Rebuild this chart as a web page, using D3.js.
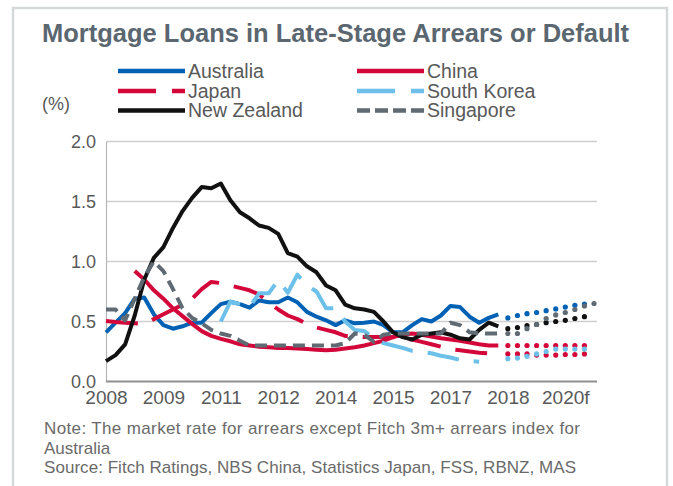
<!DOCTYPE html>
<html>
<head>
<meta charset="utf-8">
<script src="https://cdn.jsdelivr.net/npm/d3@7"></script>
<style>
  html, body { margin: 0; padding: 0; background: #fff; }
  svg { display: block; font-family: "Liberation Sans", Arial, sans-serif; }
</style>
</head>
<body>
<svg id="chart" width="673" height="486"></svg>
<script>
// ---------- DATA ----------
const years = d3.range(2008, 2021);
const categories = years.flatMap(y => [1, 2, 3, 4].map(q => y + "Q" + q));   // 2008Q1 .. 2020Q4

const tickCategories = ["2008Q1", "2009Q3", "2011Q1", "2012Q3", "2014Q1", "2015Q3", "2017Q1", "2018Q3", "2020Q1"];
const tickLabels     = ["2008", "2009", "2011", "2012", "2014", "2015", "2017", "2018", "2020f"];
const yTicks = [0, 0.5, 1.0, 1.5, 2.0];

const seriesNames = ["Australia", "China", "Japan", "South Korea", "New Zealand", "Singapore"];

// actual values, starting at the given quarter
const australiaStart = "2008Q1";
const australia = [0.41,0.49,0.57,0.69,0.70,0.56,0.47,0.44,0.46,0.49,0.49,0.57,0.645,0.665,0.645,0.615,0.675,0.66,0.66,0.70,0.66,0.58,0.54,0.51,0.47,0.51,0.485,0.49,0.50,0.47,0.41,0.41,0.47,0.52,0.50,0.55,0.63,0.62,0.54,0.49,0.53,0.56];
const chinaStart = "2008Q4";
const china = [0.92,0.85,0.76,0.69,0.61,0.545,0.48,0.42,0.38,0.355,0.335,0.31,0.30,0.29,0.285,0.28,0.28,0.275,0.27,0.265,0.26,0.265,0.275,0.285,0.30,0.32,0.34,0.37,0.39,0.40,0.39,0.375,0.36,0.35,0.34,0.325,0.31,0.30,0.30];
const japanStart = "2008Q1";
const japan = [0.505,0.495,0.49,0.485,0.48,0.52,0.56,0.60,0.64,0.69,0.77,0.83,0.82,0.80,0.78,0.76,0.725,0.66,0.60,0.55,0.52,0.48,0.45,0.43,0.41,0.38,0.375,0.37,0.37,0.37,0.37,0.36,0.35,0.33,0.31,0.29,0.27,0.26,0.25,0.24,0.235,0.23];
const southKoreaStart = "2011Q1";
const southKorea = [0.50,0.665,0.645,0.62,0.735,0.735,0.845,0.74,0.89,0.80,0.75,0.61,0.61,0.50,0.43,0.42,0.36,0.32,0.30,0.28,0.255,0.245,0.235,0.215,0.20,0.18,0.17,0.165];
const newZealandStart = "2008Q1";
const newZealand = [0.17,0.22,0.31,0.55,0.85,1.03,1.12,1.28,1.42,1.53,1.62,1.61,1.65,1.51,1.41,1.36,1.30,1.28,1.23,1.07,1.04,0.96,0.91,0.80,0.76,0.64,0.61,0.60,0.58,0.50,0.41,0.37,0.35,0.39,0.40,0.41,0.39,0.36,0.35,0.43,0.49,0.46];
const singaporeStart = "2008Q1";
const singapore = [0.60,0.60,0.51,0.69,0.87,1.00,0.92,0.77,0.61,0.53,0.485,0.43,0.40,0.38,0.34,0.30,0.30,0.30,0.30,0.30,0.30,0.30,0.30,0.30,0.30,0.32,0.40,0.39,0.33,0.39,0.40,0.40,0.40,0.40,0.40,0.40,0.49,0.47,0.41,0.40,0.40,0.40];

// forecasts (dotted), starting at 2018Q3
const forecastStart = "2018Q3";
const australiaF  = [0.53,0.55,0.565,0.575,0.59,0.605,0.62,0.635,0.645];
const chinaF      = [0.30,0.30,0.30,0.30,0.30,0.30,0.30,0.30,0.30];
const japanF      = [0.23,0.23,0.23,0.22,0.22,0.22,0.225,0.225,0.23];
const southKoreaF = [0.19,0.195,0.21,0.23,0.25,0.27,0.27,0.27,0.27];
const newZealandF = [0.44,0.45,0.465,0.475,0.49,0.50,0.51,0.525,0.54];
const singaporeF  = [0.40,0.40,0.44,0.475,0.525,0.555,0.575,0.60,0.63,0.65];

const title = "Mortgage Loans in Late-Stage Arrears or Default";
const unitLabel = "(%)";
const noteLines = [
  "Note: The market rate for arrears except Fitch 3m+ arrears index for",
  "Australia",
  "Source: Fitch Ratings, NBS China, Statistics Japan, FSS, RBNZ, MAS"
];

// ---------- STYLE ----------
const styles = {
  "Australia":   { color: "#0061b5", dash: null },
  "China":       { color: "#d4073b", dash: null },
  "Japan":       { color: "#d4073b", dash: "32,15" },
  "South Korea": { color: "#6cc0ea", dash: "32,15" },
  "New Zealand": { color: "#111111", dash: null },
  "Singapore":   { color: "#5f6a72", dash: "12,7" }
};
const actual = {
  "Australia":   { start: australiaStart,  values: australia,  forecast: australiaF },
  "China":       { start: chinaStart,      values: china,      forecast: chinaF },
  "Japan":       { start: japanStart,      values: japan,      forecast: japanF },
  "South Korea": { start: southKoreaStart, values: southKorea, forecast: southKoreaF },
  "New Zealand": { start: newZealandStart, values: newZealand, forecast: newZealandF },
  "Singapore":   { start: singaporeStart,  values: singapore,  forecast: singaporeF }
};

// ---------- CHART ----------
const svg = d3.select("#chart");
const plot = { left: 106, right: 597, top: 141.5, bottom: 381.5 };

// outer frame
svg.append("rect").attr("x", 13).attr("y", 8).attr("width", 654).attr("height", 500)
  .attr("fill", "none").attr("stroke", "#d5d9db").attr("stroke-width", 2.5);

svg.append("text").attr("x", 42).attr("y", 42)
  .attr("font-size", 25.5).attr("font-weight", "bold").attr("fill", "#5b6770")
  .text(title);

const x = d3.scalePoint().domain(categories).range([plot.left, plot.right - 3]);
const y = d3.scaleLinear().domain([0, 2]).range([plot.bottom, plot.top]);

// gridlines
svg.append("g").selectAll("line").data(yTicks.filter(t => t > 0)).join("line")
  .attr("x1", plot.left).attr("x2", plot.right)
  .attr("y1", d => y(d)).attr("y2", d => y(d))
  .attr("stroke", "#cfcfcf").attr("stroke-width", 1.5);

// y axis labels
const yAxis = d3.axisLeft(y).tickValues(yTicks).tickFormat(d3.format(".1f")).tickSize(0).tickPadding(10);
const gy = svg.append("g").attr("transform", `translate(${plot.left},0)`).call(yAxis);
gy.select(".domain").attr("stroke", "#b5b5b5").attr("stroke-width", 1.2);
gy.selectAll("text").attr("font-size", 18).attr("fill", "#595959")
  .attr("font-family", "Liberation Sans, Arial, sans-serif");

// x axis
const tickMap = new Map(tickCategories.map((c, i) => [c, tickLabels[i]]));
const xAxis = d3.axisBottom(x).tickValues(tickCategories).tickFormat(c => tickMap.get(c)).tickSize(0).tickPadding(9);
const gx = svg.append("g").attr("transform", `translate(0,${plot.bottom})`).call(xAxis);
gx.select(".domain").attr("d", `M${plot.left},0H${plot.right}`).attr("stroke", "#8f8f8f").attr("stroke-width", 2.2);
gx.selectAll("text").attr("font-size", 19).attr("fill", "#595959")
  .attr("font-family", "Liberation Sans, Arial, sans-serif");

// lines
function toPoints(start, values) {
  const s = categories.indexOf(start);
  return values.map((v, i) => ({ c: categories[s + i], v }));
}
const line = d3.line().x(d => x(d.c)).y(d => y(d.v));

const gLines = svg.append("g");
seriesNames.forEach(name => {
  const st = styles[name], a = actual[name];
  gLines.append("path").datum(toPoints(a.start, a.values))
    .attr("d", line).attr("fill", "none")
    .attr("stroke", st.color).attr("stroke-width", 4)
    .attr("stroke-linejoin", "round")
    .attr("stroke-dasharray", st.dash);
});
// forecasts as round dots
seriesNames.forEach(name => {
  const st = styles[name], a = actual[name];
  gLines.append("g").selectAll("circle").data(toPoints(forecastStart, a.forecast)).join("circle")
    .attr("cx", d => x(d.c)).attr("cy", d => y(d.v)).attr("r", 2.6)
    .attr("fill", st.color);
});

// legend
const legendPos = [
  { name: "Australia",   lx: 118, ly: 71 },
  { name: "China",       lx: 357, ly: 71 },
  { name: "Japan",       lx: 118, ly: 91 },
  { name: "South Korea", lx: 357, ly: 91 },
  { name: "New Zealand", lx: 118, ly: 110.5 },
  { name: "Singapore",   lx: 357, ly: 110.5 }
];
const gLeg = svg.append("g");
legendPos.forEach(p => {
  const st = styles[p.name];
  gLeg.append("line").attr("x1", p.lx).attr("x2", p.lx + 67).attr("y1", p.ly).attr("y2", p.ly)
    .attr("stroke", st.color).attr("stroke-width", 4.5)
    .attr("stroke-dasharray", p.name === "Singapore" ? "13,5" : (st.dash ? "38,16" : null));
  gLeg.append("text").attr("x", p.lx + 70).attr("y", p.ly + 6.5)
    .attr("font-size", 19.5).attr("fill", "#595959").text(p.name);
});
svg.append("text").attr("x", 42).attr("y", 110).attr("font-size", 18).attr("fill", "#595959").text(unitLabel);

// notes
const noteWidths = [536, null, 532];
svg.append("g").selectAll("text").data(noteLines).join("text")
  .attr("x", 44).attr("y", (d, i) => 434 + i * 19.5)
  .attr("font-size", 17).attr("fill", "#6a6a6a")
  .each(function(d, i) { if (noteWidths[i]) d3.select(this).attr("textLength", noteWidths[i]); })
  .text(d => d);
</script>
</body>
</html>
